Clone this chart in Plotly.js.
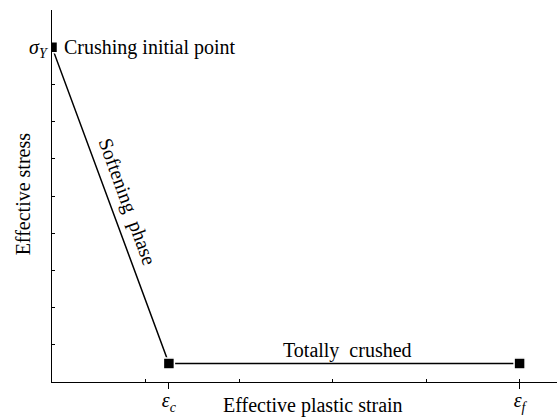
<!DOCTYPE html>
<html>
<head>
<meta charset="utf-8">
<script src="https://cdn.plot.ly/plotly-3.0.1.min.js"></script>
<style>html,body{margin:0;padding:0;background:#fff;}#chart{width:557px;height:419px;}</style>
</head>
<body>
<div id="chart"></div>
<script>
// Data (schematic stress-strain curve)
const strain = [0, 1.25, 5];
const stress = [9, 0.5, 0.5];
const xTickVals = [1.25, 5];
const xTickText = ['<i>ε</i><sub><i>c</i></sub>', '<i>ε</i><sub><i>f</i></sub>'];
const xMinorVals = [1, 2, 3, 4, 5];
const yTickVals = [9];
const yTickText = ['<i>σ</i><sub><i>Y</i></sub>'];
const yMinorVals = [1, 2, 3, 4, 5, 6, 7, 8, 10];
const labels = {
  start: 'Crushing initial point',
  soft: 'Softening  phase',
  flat: 'Totally  crushed',
  xTitle: 'Effective plastic strain',
  yTitle: 'Effective stress'
};

const FONT = 'Liberation Serif, Times New Roman, serif';

const trace = {
  x: strain, y: stress, type: 'scatter', mode: 'lines+markers',
  line: {color: '#000', width: 1.5},
  marker: {symbol: 'square', size: 11, color: '#000', line: {color: '#fff', width: 1.5}},
  cliponaxis: true, hoverinfo: 'skip', showlegend: false
};

const layout = {
  width: 557, height: 419,
  margin: {l: 52, r: 0, t: 10, b: 37},
  paper_bgcolor: '#fff', plot_bgcolor: '#fff',
  font: {family: FONT, size: 20, color: '#000'},
  showlegend: false,
  xaxis: {
    range: [0, 5.4], showgrid: false, zeroline: false,
    showline: true, linecolor: '#000', linewidth: 1.3,
    tickmode: 'array', tickvals: xTickVals, ticktext: xTickText,
    ticks: 'outside', ticklen: 6, tickwidth: 1, tickcolor: '#000',
    ticklabelstandoff: -6,
    tickfont: {family: FONT, size: 20, color: '#000'},
    minor: {tickmode: 'array', tickvals: xMinorVals, ticks: 'inside', ticklen: 3, tickwidth: 1, tickcolor: '#000', showgrid: false},
    fixedrange: true
  },
  yaxis: {
    range: [0, 10], showgrid: false, zeroline: false,
    showline: true, linecolor: '#000', linewidth: 1.3,
    tickmode: 'array', tickvals: yTickVals, ticktext: yTickText,
    ticks: 'inside', ticklen: 3, tickwidth: 1, tickcolor: '#000',
    tickfont: {family: FONT, size: 20, color: '#000'},
    minor: {tickmode: 'array', tickvals: yMinorVals, ticks: 'inside', ticklen: 3, tickwidth: 1, tickcolor: '#000', showgrid: false},
    fixedrange: true
  },
  annotations: [
    {x: 0.11, y: 9, xref: 'x', yref: 'y', text: labels.start, showarrow: false,
     xanchor: 'left', yanchor: 'middle', font: {family: FONT, size: 20, color: '#000'}},
    {x: 0.80, y: 4.84, xref: 'x', yref: 'y', text: labels.soft, showarrow: false,
     textangle: 70, xanchor: 'center', yanchor: 'middle', font: {family: FONT, size: 20, color: '#000'}},
    {x: 3.16, y: 0.5, xref: 'x', yref: 'y', text: labels.flat, showarrow: false,
     xanchor: 'center', yanchor: 'bottom', yshift: -1, font: {family: FONT, size: 20, color: '#000'}},
    {x: 0.517, y: 0, xref: 'paper', yref: 'paper', text: labels.xTitle, showarrow: false,
     xanchor: 'center', yanchor: 'bottom', yshift: -37, font: {family: FONT, size: 20, color: '#000'}},
    {x: -0.057, y: 0.505, xref: 'paper', yref: 'paper', text: labels.yTitle, showarrow: false,
     textangle: -90, xanchor: 'center', yanchor: 'middle', font: {family: FONT, size: 20, color: '#000'}}
  ]
};

Plotly.newPlot('chart', [trace], layout, {displayModeBar: false, staticPlot: true});
</script>
</body>
</html>
